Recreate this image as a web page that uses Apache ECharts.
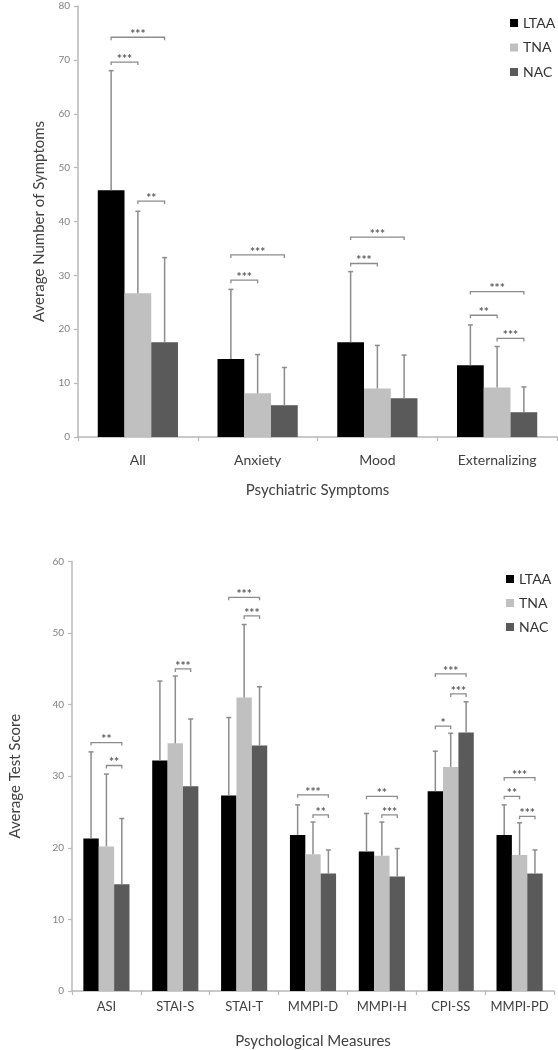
<!DOCTYPE html>
<html>
<head>
<meta charset="utf-8">
<script src="https://cdn.jsdelivr.net/npm/echarts@6/dist/echarts.min.js"></script>
<style>
html,body{margin:0;padding:0;background:#fff;}
#chart{width:558px;height:1050px;}
</style>
</head>
<body>
<div id="chart"></div>
<script>
// ---------- Data ----------
const groups = ['LTAA', 'TNA', 'NAC'];

// Top panel: psychiatric symptoms
const symptomCats = ['All', 'Anxiety', 'Mood', 'Externalizing'];
const symLTAA = [45.8, 14.5, 17.6, 13.3];
const symTNA  = [26.7, 8.1, 9.0, 9.2];
const symNAC  = [17.6, 5.9, 7.2, 4.6];
const symLTAAsd = [22.2, 12.9, 13.1, 7.5];
const symTNAsd  = [15.2, 7.2, 8.0, 7.6];
const symNACsd  = [15.7, 7.0, 8.0, 4.7];
const symTicks = [0, 10, 20, 30, 40, 50, 60, 70, 80];
// [category, fromGroup, toGroup, level, label]
const symBrackets = [
  [0, 0, 1, 69.6, '***'], [0, 0, 2, 74.2, '***'], [0, 1, 2, 43.8, '**'],
  [1, 0, 1, 29.1, '***'], [1, 0, 2, 33.8, '***'],
  [2, 0, 1, 32.2, '***'], [2, 0, 2, 37.1, '***'],
  [3, 0, 1, 22.6, '**'], [3, 0, 2, 27.0, '***'], [3, 1, 2, 18.3, '***']
];

// Bottom panel: psychological measures
const measureCats = ['ASI', 'STAI-S', 'STAI-T', 'MMPI-D', 'MMPI-H', 'CPI-SS', 'MMPI-PD'];
const psyLTAA = [21.3, 32.2, 27.3, 21.8, 19.5, 27.9, 21.8];
const psyTNA  = [20.2, 34.6, 41.0, 19.1, 18.9, 31.3, 19.0];
const psyNAC  = [14.9, 28.6, 34.3, 16.4, 16.0, 36.1, 16.4];
const psyLTAAsd = [12.1, 11.1, 10.9, 4.2, 5.3, 5.6, 4.2];
const psyTNAsd  = [10.1, 9.4, 10.2, 4.5, 4.7, 4.7, 4.5];
const psyNACsd  = [9.2, 9.4, 8.2, 3.3, 3.9, 4.3, 3.3];
const psyTicks = [0, 10, 20, 30, 40, 50, 60];
const psyBrackets = [
  [0, 0, 2, 34.7, '**'], [0, 1, 2, 31.5, '**'],
  [1, 1, 2, 45.0, '***'],
  [2, 0, 2, 55.0, '***'], [2, 1, 2, 52.4, '***'],
  [3, 0, 2, 27.4, '***'], [3, 1, 2, 24.6, '**'],
  [4, 0, 2, 27.2, '**'], [4, 1, 2, 24.6, '***'],
  [5, 0, 1, 37.0, '*'], [5, 0, 2, 44.3, '***'], [5, 1, 2, 41.5, '***'],
  [6, 0, 1, 27.2, '**'], [6, 0, 2, 29.8, '***'], [6, 1, 2, 24.4, '***']
];

// ---------- Styling ----------
const FONT = 'Lato, "Open Sans", sans-serif';
const colors = ['#000000', '#c0c0c0', '#5a5a5a'];
const axisGray = '#b8b8b8';
const errGray = '#8c8c8c';
const CAT_GAP = 0.33;

function barCenter(api, cat, g) {
  const cw = api.size([1, 0])[0];
  const groupW = cw * (1 - CAT_GAP);
  const bw = groupW / 3;
  const c = api.coord([cat, 0])[0];
  return c - groupW / 2 + bw * (g + 0.5);
}

function errorSeries(means, sds, g, axisIdx) {
  return {
    type: 'custom',
    xAxisIndex: axisIdx, yAxisIndex: axisIdx,
    z: 3, silent: true,
    data: means.map((m, i) => [i, m, m + sds[i]]),
    encode: { x: 0, y: [1, 2] },
    renderItem: function (params, api) {
      const cat = api.value(0);
      const x = barCenter(api, cat, g);
      const y0 = api.coord([cat, api.value(1)])[1];
      const y1 = api.coord([cat, api.value(2)])[1];
      const st = { stroke: errGray, lineWidth: 1.5 };
      return {
        type: 'group',
        children: [
          { type: 'line', shape: { x1: x, y1: y0, x2: x, y2: y1 }, style: st },
          { type: 'line', shape: { x1: x - 2.5, y1: y1, x2: x + 2.5, y2: y1 }, style: st }
        ]
      };
    }
  };
}

function bracketSeries(brackets, axisIdx) {
  return {
    type: 'custom',
    xAxisIndex: axisIdx, yAxisIndex: axisIdx,
    z: 4, silent: true,
    data: brackets.map(b => [b[0], b[3]]),
    encode: { x: 0, y: 1 },
    renderItem: function (params, api) {
      const b = brackets[params.dataIndex];
      const xa = barCenter(api, b[0], b[1]);
      const xb = barCenter(api, b[0], b[2]);
      const y = api.coord([b[0], b[3]])[1];
      const st = { stroke: '#8c8c8c', lineWidth: 1.3, fill: null };
      return {
        type: 'group',
        children: [
          { type: 'polyline', shape: { points: [[xa, y + 3], [xa, y], [xb, y], [xb, y + 3]] }, style: st },
          { type: 'text', style: { text: b[4], x: (xa + xb) / 2, y: y + 3, align: 'center', verticalAlign: 'bottom',
              fill: '#5a5a5a', font: 'bold 12px ' + FONT } }
        ]
      };
    }
  };
}

function barSeries(name, data, g, axisIdx) {
  return {
    name: name, type: 'bar',
    xAxisIndex: axisIdx, yAxisIndex: axisIdx,
    data: data,
    barGap: '0%', barCategoryGap: (CAT_GAP * 100) + '%',
    itemStyle: { color: colors[g] },
    z: 2
  };
}

function xAxisDef(cats, gridIdx, name, labelMargin, nameGap, labelSize) {
  return {
    type: 'category', gridIndex: gridIdx, data: cats,
    name: name, nameLocation: 'middle', nameGap: nameGap,
    nameTextStyle: { fontFamily: FONT, fontSize: 15, color: '#404040' },
    axisLine: { lineStyle: { color: axisGray, width: 1.5 } },
    axisTick: { show: true, length: 4, lineStyle: { color: axisGray, width: 1.2 } },
    axisLabel: { interval: 0, fontFamily: FONT, fontSize: labelSize, color: '#404040', margin: labelMargin },
    splitLine: { show: false }
  };
}

function yAxisDef(ticks, gridIdx, name, nameGap) {
  return {
    type: 'value', gridIndex: gridIdx,
    min: ticks[0], max: ticks[ticks.length - 1], interval: ticks[1] - ticks[0],
    name: name, nameLocation: 'middle', nameGap: nameGap, nameRotate: 90,
    nameTextStyle: { fontFamily: FONT, fontSize: 15, color: '#404040' },
    axisLine: { show: true, lineStyle: { color: axisGray, width: 1.5 } },
    axisTick: { show: true, length: 4, lineStyle: { color: axisGray, width: 1.2 } },
    axisLabel: { fontFamily: FONT, fontSize: 10, color: '#808080', margin: 8 },
    splitLine: { show: false }
  };
}

const chart = echarts.init(document.getElementById('chart'), null, { renderer: 'canvas' });

const option = {
  animation: false,
  backgroundColor: '#ffffff',
  grid: [
    { left: 78, top: 6, width: 479, height: 431 },
    { left: 64, top: 561.5, width: 490, height: 433 }
  ],
  legend: [
    { data: groups, orient: 'vertical', left: 505, top: 10, icon: 'rect', itemWidth: 8, itemHeight: 8,
      itemGap: 8.5, textStyle: { fontFamily: FONT, fontSize: 14, color: '#333', lineHeight: 16 }, selectedMode: false },
    { data: groups, orient: 'vertical', left: 501, top: 566, icon: 'rect', itemWidth: 8, itemHeight: 8,
      itemGap: 8, textStyle: { fontFamily: FONT, fontSize: 14, color: '#333', lineHeight: 16 }, selectedMode: false }
  ],
  xAxis: [
    xAxisDef(symptomCats, 0, 'Psychiatric Symptoms', 16, 46, 14),
    xAxisDef(measureCats, 1, 'Psychological Measures', 9, 43, 13)
  ],
  yAxis: [
    yAxisDef(symTicks, 0, 'Average Number of Symptoms', 31),
    yAxisDef(psyTicks, 1, 'Average Test Score', 49)
  ],
  series: [
    barSeries('LTAA', symLTAA, 0, 0),
    barSeries('TNA', symTNA, 1, 0),
    barSeries('NAC', symNAC, 2, 0),
    errorSeries(symLTAA, symLTAAsd, 0, 0),
    errorSeries(symTNA, symTNAsd, 1, 0),
    errorSeries(symNAC, symNACsd, 2, 0),
    bracketSeries(symBrackets, 0),
    barSeries('LTAA', psyLTAA, 0, 1),
    barSeries('TNA', psyTNA, 1, 1),
    barSeries('NAC', psyNAC, 2, 1),
    errorSeries(psyLTAA, psyLTAAsd, 0, 1),
    errorSeries(psyTNA, psyTNAsd, 1, 1),
    errorSeries(psyNAC, psyNACsd, 2, 1),
    bracketSeries(psyBrackets, 1)
  ]
};
chart.setOption(option);
</script>
</body>
</html>
